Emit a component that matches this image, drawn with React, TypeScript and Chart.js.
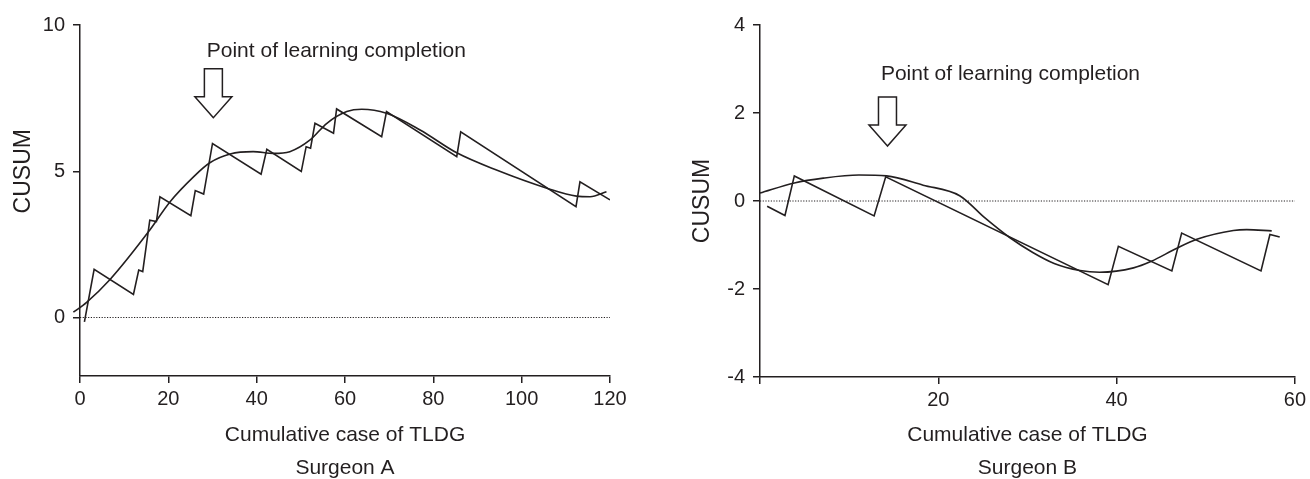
import React, { useEffect, useRef } from 'react';
import { Chart, registerables } from 'chart.js';

Chart.register(...registerables);

const INK = '#231f20';
const FONT = '"Liberation Sans", Arial, Helvetica, sans-serif';

// ---------- Surgeon A ----------
const casesA = [1, 3.2, 12.1, 13.3, 14.2, 15.8, 17.3, 18.1, 25.1, 26.1, 28.0, 30.0, 41.0, 42.3, 50.1, 51.2, 52.2, 53.2, 57.4, 58.1, 68.3, 69.4, 85.3, 86.2, 112.3, 113.2, 120];
const cusumA = [-0.15, 1.65, 0.79, 1.62, 1.57, 3.33, 3.28, 4.13, 3.48, 4.34, 4.22, 5.95, 4.9, 5.75, 4.99, 5.84, 5.79, 6.64, 6.3, 7.13, 6.18, 7.04, 5.5, 6.35, 3.79, 4.64, 4.02];
const fitCasesA = [-1.5, 1.5, 6.8, 15.5, 20.4, 25.7, 29.4, 34, 39.2, 43.8, 47.5, 52.1, 55.9, 60.4, 63.8, 69.4, 77, 85.3, 94.3, 105.7, 112.4, 115.5, 119.2];
const fitA = [0.18, 0.52, 1.3, 2.93, 3.96, 4.81, 5.29, 5.59, 5.67, 5.61, 5.67, 6.07, 6.64, 7.04, 7.12, 6.98, 6.41, 5.63, 5.04, 4.42, 4.15, 4.13, 4.3];
const xTicksA = [0, 20, 40, 60, 80, 100, 120];
const xLabelsA = ['0', '20', '40', '60', '80', '100', '120'];
const yTicksA = [0, 5, 10];
const learningA = { x: 30.2, y: 6.83 };
const labelPosA = { x: 28.7, y: 8.92 };

// ---------- Surgeon B ----------
const casesB = [0.8, 2.8, 3.85, 12.8, 14.1, 39.05, 40.2, 46.2, 47.3, 56.2, 57.2, 58.3];
const cusumB = [-0.12, -0.33, 0.57, -0.34, 0.55, -1.9, -1.03, -1.59, -0.73, -1.59, -0.76, -0.82];
const fitCasesB = [0, 3.85, 7.1, 11.1, 14.2, 18.3, 22.4, 25.2, 28, 30.6, 33, 35.9, 38.1, 41.9, 43.9, 46.7, 49, 53.1, 54.6, 57.4];
const fitB = [0.18, 0.41, 0.52, 0.59, 0.57, 0.36, 0.12, -0.38, -0.83, -1.17, -1.42, -1.58, -1.62, -1.52, -1.37, -1.08, -0.87, -0.67, -0.65, -0.68];
const xTicksB = [0, 20, 40, 60];
const xLabelsB = ['', '20', '40', '60'];
const yTicksB = [-4, -2, 0, 2, 4];
const learningB = { x: 14.3, y: 1.25 };
const labelPosB = { x: 13.56, y: 2.75 };

const zip = (xs: number[], ys: number[]) => xs.map((x, i) => ({ x, y: ys[i] }));

const markPlugin = {
  id: 'learningMark',
  afterDatasetsDraw(chart: any, _args: any, opts: any) {
    const { ctx, chartArea } = chart;
    const xs = chart.scales.x;
    const ys = chart.scales.y;
    ctx.save();
    // y-axis title
    ctx.fillStyle = INK;
    ctx.font = `23px ${FONT}`;
    ctx.save();
    ctx.translate(chartArea.left - opts.yTitleOffset, ys.getPixelForValue(opts.yTitleValue));
    ctx.rotate(-Math.PI / 2);
    ctx.textAlign = 'center';
    ctx.textBaseline = 'middle';
    ctx.fillText('CUSUM', 0, 0);
    ctx.restore();
    // block arrow
    const tx = xs.getPixelForValue(opts.arrow.x);
    const ty = ys.getPixelForValue(opts.arrow.y);
    const sw = 9, hw = 18.5, hl = 21, total = 49;
    ctx.beginPath();
    ctx.moveTo(tx, ty);
    ctx.lineTo(tx - hw, ty - hl);
    ctx.lineTo(tx - sw, ty - hl);
    ctx.lineTo(tx - sw, ty - total);
    ctx.lineTo(tx + sw, ty - total);
    ctx.lineTo(tx + sw, ty - hl);
    ctx.lineTo(tx + hw, ty - hl);
    ctx.closePath();
    ctx.fillStyle = '#ffffff';
    ctx.fill();
    ctx.strokeStyle = INK;
    ctx.lineWidth = 1.5;
    ctx.lineJoin = 'miter';
    ctx.stroke();
    // label
    ctx.fillStyle = INK;
    ctx.font = `21px ${FONT}`;
    ctx.textAlign = 'left';
    ctx.textBaseline = 'alphabetic';
    ctx.fillText(opts.text, xs.getPixelForValue(opts.label.x), ys.getPixelForValue(opts.label.y));
    ctx.restore();
  },
};

type Panel = {
  cases: number[]; cusum: number[]; fitCases: number[]; fit: number[];
  xMin: number; xMax: number; yMin: number; yMax: number;
  xTicks: number[]; xLabels: string[]; yTicks: number[];
  title: string; arrow: { x: number; y: number }; label: { x: number; y: number };
  yTitleValue: number; yTitleOffset: number;
  padTop: number; padRight: number; yAxisWidth: number; xAxisHeight: number;
};

function buildConfig(p: Panel): any {
  const tickFont = { family: FONT, size: 20 };
  const grid = { display: true, drawOnChartArea: false, drawTicks: true, tickLength: 7, color: INK, lineWidth: 1.5 };
  const border = { display: true, color: INK, width: 1.5 };
  return {
    type: 'line',
    data: {
      datasets: [
        { data: zip(p.cases, p.cusum), borderColor: INK, borderWidth: 1.6, pointRadius: 0, tension: 0, fill: false },
        { data: zip(p.fitCases, p.fit), borderColor: INK, borderWidth: 1.6, pointRadius: 0, cubicInterpolationMode: 'monotone', fill: false, clip: false },
        { data: [{ x: p.xMin, y: 0 }, { x: p.xMax, y: 0 }], borderColor: INK, borderWidth: 1, borderDash: [1.2, 1.5], pointRadius: 0, fill: false },
      ],
    },
    options: {
      animation: false,
      responsive: false,
      maintainAspectRatio: false,
      events: [],
      layout: { padding: { top: p.padTop, right: p.padRight, left: 0, bottom: 0 } },
      plugins: {
        legend: { display: false },
        tooltip: { enabled: false },
        title: {
          display: true, position: 'bottom', text: p.title, color: INK, fullSize: false,
          font: { family: FONT, size: 21, weight: 'normal', lineHeight: 1 }, padding: { top: 0, bottom: 0 },
        },
        learningMark: {
          arrow: p.arrow, label: p.label, text: 'Point of learning completion',
          yTitleValue: p.yTitleValue, yTitleOffset: p.yTitleOffset,
        },
      },
      scales: {
        x: {
          type: 'linear', min: p.xMin, max: p.xMax,
          afterBuildTicks: (s: any) => { s.ticks = p.xTicks.map((v) => ({ value: v })); },
          afterFit: (s: any) => { s.height = p.xAxisHeight; },
          grid, border,
          ticks: {
            color: INK, font: tickFont, padding: 4, maxRotation: 0, autoSkip: false,
            callback: (v: number) => { const i = p.xTicks.indexOf(v); return i >= 0 ? p.xLabels[i] : ''; },
          },
          title: {
            display: true, text: 'Cumulative case of TLDG', color: INK,
            font: { family: FONT, size: 21, lineHeight: 1 }, padding: { top: 0, bottom: 12 },
          },
        },
        y: {
          type: 'linear', min: p.yMin, max: p.yMax,
          afterBuildTicks: (s: any) => { s.ticks = p.yTicks.map((v) => ({ value: v })); },
          afterFit: (s: any) => { s.width = p.yAxisWidth; },
          grid, border,
          ticks: { color: INK, font: tickFont, padding: 8, autoSkip: false, callback: (v: number) => String(v) },
          title: { display: false },
        },
      },
    },
    plugins: [markPlugin],
  };
}

const panelA: Panel = {
  cases: casesA, cusum: cusumA, fitCases: fitCasesA, fit: fitA,
  xMin: 0, xMax: 120, yMin: -2, yMax: 10,
  xTicks: xTicksA, xLabels: xLabelsA, yTicks: yTicksA,
  title: 'Surgeon A', arrow: learningA, label: labelPosA,
  yTitleValue: 5, yTitleOffset: 56,
  padTop: 25, padRight: 45, yAxisWidth: 80, xAxisHeight: 82,
};

const panelB: Panel = {
  cases: casesB, cusum: cusumB, fitCases: fitCasesB, fit: fitB,
  xMin: 0, xMax: 60, yMin: -4, yMax: 4,
  xTicks: xTicksB, xLabels: xLabelsB, yTicks: yTicksB,
  title: 'Surgeon B', arrow: learningB, label: labelPosB,
  yTitleValue: 0, yTitleOffset: 57,
  padTop: 25, padRight: 14, yAxisWidth: 105, xAxisHeight: 81,
};

function CusumChart({ panel }: { panel: Panel }) {
  const ref = useRef<HTMLCanvasElement>(null);
  useEffect(() => {
    if (!ref.current) return;
    const chart = new Chart(ref.current, buildConfig(panel));
    return () => chart.destroy();
  }, [panel]);
  return <canvas ref={ref} width={655} height={479} style={{ display: 'block', width: 655, height: 479 }} />;
}

export default function App() {
  return (
    <div style={{ position: 'absolute', left: 0, top: 0, width: 1310, height: 479, background: '#ffffff', display: 'flex' }}>
      <CusumChart panel={panelA} />
      <CusumChart panel={panelB} />
    </div>
  );
}
